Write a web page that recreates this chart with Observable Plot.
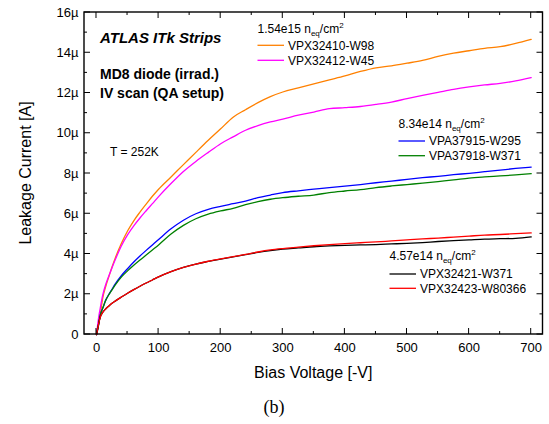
<!DOCTYPE html>
<html><head><meta charset="utf-8">
<script src="https://cdn.jsdelivr.net/npm/d3@7"></script>
<script src="https://cdn.jsdelivr.net/npm/@observablehq/plot@0.6"></script>
<style>body{margin:0;background:#fff}</style>
</head><body><div id="chart"></div>
<script>
// Bias voltage [-V]
const voltage = [0,2,4,6,8,10,15,20,25,30,40,50,60,70,80,90,100,120,140,160,180,200,220,240,260,280,300,325,350,375,400,425,450,475,500,525,550,575,600,625,650,675,700];
// Leakage current [µA]
const vpx32410_w98 = [0,0.35,0.7,1.0,1.4,1.8,2.4,2.88,3.35,3.78,4.52,5.14,5.65,6.08,6.48,6.87,7.22,7.83,8.44,9.05,9.65,10.22,10.8,11.17,11.52,11.82,12.05,12.25,12.45,12.65,12.85,13.07,13.25,13.35,13.48,13.62,13.82,13.98,14.1,14.22,14.3,14.46,14.66];
const vpx32412_w45 = [0,0.5,0.95,1.3,1.65,1.95,2.5,2.92,3.32,3.7,4.4,4.95,5.4,5.79,6.15,6.5,6.85,7.5,8.1,8.6,9.05,9.48,9.82,10.15,10.38,10.56,10.7,10.9,11.05,11.22,11.27,11.33,11.43,11.55,11.72,11.88,12.03,12.18,12.3,12.4,12.48,12.6,12.76];
const vpa37915_w295 = [0,0.25,0.6,0.95,1.15,1.3,1.72,2.0,2.25,2.5,2.92,3.27,3.6,3.9,4.18,4.45,4.72,5.25,5.68,6.0,6.22,6.37,6.5,6.63,6.8,6.93,7.05,7.14,7.22,7.3,7.37,7.45,7.54,7.62,7.71,7.79,7.86,7.94,8.01,8.09,8.17,8.25,8.32];
const vpa37918_w371 = [0,0.25,0.6,0.95,1.15,1.3,1.7,1.98,2.22,2.45,2.85,3.16,3.44,3.7,3.95,4.2,4.45,4.99,5.42,5.75,5.98,6.14,6.27,6.45,6.6,6.72,6.8,6.87,6.93,7.05,7.13,7.2,7.3,7.38,7.45,7.52,7.6,7.68,7.77,7.83,7.88,7.93,7.99];
const vpx32421_w371 = [0,0.3,0.62,0.86,1.0,1.1,1.28,1.42,1.55,1.66,1.86,2.05,2.23,2.4,2.56,2.71,2.86,3.12,3.33,3.5,3.63,3.75,3.86,3.97,4.08,4.17,4.24,4.3,4.36,4.4,4.43,4.45,4.47,4.5,4.53,4.57,4.62,4.66,4.7,4.74,4.76,4.78,4.85];
const vpx32423_w80366 = [0,0.3,0.6,0.85,1.0,1.1,1.28,1.42,1.55,1.66,1.86,2.05,2.23,2.4,2.56,2.71,2.86,3.12,3.33,3.5,3.64,3.76,3.87,3.98,4.1,4.2,4.27,4.34,4.41,4.47,4.52,4.56,4.6,4.65,4.7,4.75,4.79,4.84,4.89,4.94,4.97,5.01,5.05];

const seriesNames = ["VPX32410-W98","VPX32412-W45","VPA37915-W295","VPA37918-W371","VPX32421-W371","VPX32423-W80366"];
const seriesValues = [vpx32410_w98, vpx32412_w45, vpa37915_w295, vpa37918_w371, vpx32421_w371, vpx32423_w80366];
const seriesColors = ["#ff8000","#ff00ff","#0000ff","#008000","#000000","#ff0000"];
const fluenceGroups = [["1.54e15", [0,1]], ["8.34e14", [2,3]], ["4.57e14", [4,5]]];

const xTicks = [0,100,200,300,400,500,600,700];
const xMinorTicks = [50,150,250,350,450,550,650];
const yTicks = [0,2,4,6,8,10,12,14,16];
const yTickLabels = ["0","2µ","4µ","6µ","8µ","10µ","12µ","14µ","16µ"];
const yMinorTicks = [1,3,5,7,9,11,13,15];

const xLabel = "Bias Voltage [-V]";
const yLabel = "Leakage Current [A]";
const titleLines = ["ATLAS ITk Strips", "MD8 diode (irrad.)", "IV scan (QA setup)"];
const tempNote = "T = 252K";
const panelTag = "(b)";

const rows = [];
seriesNames.forEach((name, s) => voltage.forEach((v, i) => rows.push({V: v, I: seriesValues[s][i], series: name})));

const FONT = "'Liberation Sans', Arial, sans-serif";

function frameTicks(index, scales, values, dims) {
  const {x, y} = scales;
  const l = dims.marginLeft, t = dims.marginTop, r = dims.width - dims.marginRight, b = dims.height - dims.marginBottom;
  const g = d3.create("svg:g").attr("stroke", "#000").attr("fill", "none").attr("stroke-width", 1);
  const seg = (x1, y1, x2, y2) => g.append("line").attr("x1", x1).attr("y1", y1).attr("x2", x2).attr("y2", y2);
  xTicks.forEach(v => { const px = x(v); seg(px, b, px, b - 6); seg(px, t, px, t + 6); });
  xMinorTicks.forEach(v => { const px = x(v); seg(px, b, px, b - 3); seg(px, t, px, t + 3); });
  yTicks.forEach(v => { const py = y(v); seg(l, py, l + 6, py); seg(r, py, r - 6, py); });
  yMinorTicks.forEach(v => { const py = y(v); seg(l, py, l + 3, py); seg(r, py, r - 3, py); });
  g.append("rect").attr("x", l).attr("y", t).attr("width", r - l).attr("height", b - t).attr("stroke-width", 1.4);
  return g.node();
}

function annotations(index, scales, values, dims) {
  const l = dims.marginLeft, t = dims.marginTop, r = dims.width - dims.marginRight, b = dims.height - dims.marginBottom;
  const g = d3.create("svg:g").attr("font-family", FONT).attr("fill", "#000").attr("text-anchor", "start");
  const txt = (s, px, py, size, extra = {}) => {
    const e = g.append("text").attr("x", px).attr("y", py).attr("font-size", size).text(s);
    for (const k in extra) e.attr(k, extra[k]);
    return e;
  };
  txt(titleLines[0], l + 16, t + 30.5, 15, {"font-weight": "bold", "font-style": "italic"});
  txt(titleLines[1], l + 16, t + 67, 14, {"font-weight": "bold"});
  txt(titleLines[2], l + 16, t + 86, 14, {"font-weight": "bold"});
  txt(tempNote, l + 26, t + 144, 12);
  // axis titles
  txt(xLabel, (l + r) / 2, 378, 16, {"text-anchor": "middle"});
  g.append("text").attr("transform", `translate(31,${(t + b) / 2}) rotate(-90)`)
    .attr("text-anchor", "middle").attr("font-size", 16).text(yLabel);
  txt(panelTag, 274, 413, 18, {"text-anchor": "middle", "font-family": "'Liberation Serif', 'Times New Roman', serif"});
  // legends: [header x, header baseline, first row y, row spacing]
  const legendLayout = [[257.5, 32.5, 45.3, 15], [398.5, 127.6, 141, 14.7], [389.5, 260.3, 274, 14.3]];
  fluenceGroups.forEach(([flu, members], gi) => {
    const [hx, hy, ry, dy] = legendLayout[gi];
    const h = g.append("text").attr("x", hx).attr("y", hy).attr("font-size", 12);
    h.append("tspan").text(flu + " n");
    h.append("tspan").attr("font-size", 8).attr("dy", 3).text("eq");
    h.append("tspan").attr("dy", -3).text("/cm");
    h.append("tspan").attr("font-size", 8).attr("dy", -5).text("2");
    members.forEach((s, k) => {
      const yy = ry + k * dy;
      g.append("line").attr("x1", hx).attr("x2", hx + 26.5).attr("y1", yy).attr("y2", yy)
        .attr("stroke", seriesColors[s]).attr("stroke-width", 1.3);
      txt(seriesNames[s], hx + 30.5, yy + 4.3, 12);
    });
  });
  return g.node();
}

const chart = Plot.plot({
  width: 549,
  height: 424,
  marginLeft: 84,
  marginRight: 6.5,
  marginTop: 12,
  marginBottom: 90,
  style: {fontFamily: FONT, fontSize: "13px", color: "#000", background: "#fff"},
  x: {domain: [-19.3, 719]},
  y: {domain: [0, 16]},
  color: {domain: seriesNames, range: seriesColors},
  marks: [
    Plot.axisX({ticks: xTicks, tickSize: 0, tickPadding: 8, label: null, tickFormat: d => String(d)}),
    Plot.axisY({ticks: yTicks, tickSize: 0, tickPadding: 6, label: null, tickFormat: d => yTickLabels[yTicks.indexOf(d)]}),
    Plot.line(rows, {x: "V", y: "I", z: "series", stroke: "series", strokeWidth: 1.3, curve: "monotone-x"}),
    frameTicks,
    annotations
  ]
});
document.getElementById("chart").appendChild(chart);
</script>
</body></html>
